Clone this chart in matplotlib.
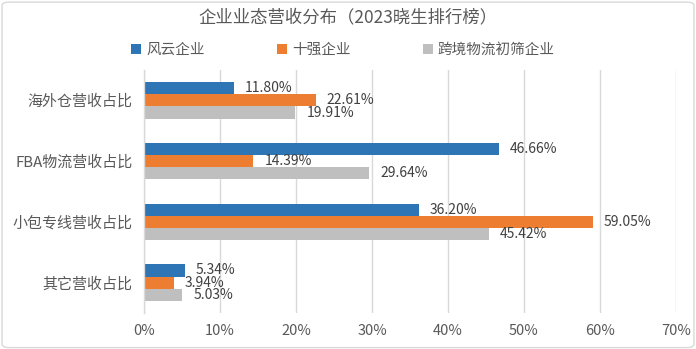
import matplotlib
matplotlib.use("Agg")
import matplotlib.pyplot as plt
import numpy as np
from matplotlib.patches import FancyBboxPatch
from matplotlib.ticker import FuncFormatter

plt.rcParams['font.family'] = ['Noto Sans CJK SC', 'DejaVu Sans']

categories = ["海外仓营收占比", "FBA物流营收占比", "小包专线营收占比", "其它营收占比"]
series_names = ["风云企业", "十强企业", "跨境物流初筛企业"]
fengyun = [11.80, 46.66, 36.20, 5.34]
shiqiang = [22.61, 14.39, 59.05, 3.94]
chushai = [19.91, 29.64, 45.42, 5.03]
xticks = [0, 10, 20, 30, 40, 50, 60, 70]
title = "企业业态营收分布（2023晓生排行榜）"

colors = ["#2E75B6", "#ED7D31", "#BFBFBF"]
text_color = "#595959"

fig = plt.figure(figsize=(6.96, 3.49), dpi=100)
ax = fig.add_axes([144/696, 1 - 313/349, (676 - 144)/696, (313 - 70)/349])

y = np.arange(len(categories))
h = 0.2
data = [fengyun, shiqiang, chushai]
for i, (vals, c, name) in enumerate(zip(data, colors, series_names)):
    pos = y + (i - 1) * h
    ax.barh(pos, vals, height=h, color=c, label=name, zorder=3)
    for p, v in zip(pos, vals):
        ax.annotate(f"{v:.2f}%", xy=(v, p), xytext=(11, 0), textcoords="offset pixels",
                    va="center", ha="left", fontsize=10, color="#404040", zorder=4)

ax.set_ylim(len(categories) - 0.5, -0.5)
ax.set_xlim(0, 70)
ax.set_xticks(xticks)
ax.xaxis.set_major_formatter(FuncFormatter(lambda v, p: f"{v:.0f}%"))
ax.set_yticks(y)
ax.set_yticklabels(categories)
ax.tick_params(axis="both", length=0, colors=text_color)
ax.tick_params(axis="x", pad=8, labelsize=10.5)
ax.tick_params(axis="y", pad=8, labelsize=10.8)
ax.grid(axis="x", color="#D9D9D9", linewidth=1, zorder=0)
for s in ["top", "right", "bottom"]:
    ax.spines[s].set_visible(False)
ax.spines["left"].set_color("#D9D9D9")
ax.spines["left"].set_linewidth(1)
ax.spines["left"].set_zorder(5)

fig.text(0.5, 1 - 17/349, title, ha="center", va="center", fontsize=12.5, color=text_color)

leg = fig.legend(loc="center", bbox_to_anchor=(0.493, 1 - 50/349), ncol=3, frameon=False,
                 fontsize=10.5, handlelength=0.65, handleheight=0.65, columnspacing=5.0,
                 handletextpad=0.35, labelcolor=text_color)

border = FancyBboxPatch((0.003, 0.004), 0.994, 0.99, boxstyle="round,pad=0,rounding_size=0.01",
                        transform=fig.transFigure, facecolor="none", edgecolor="#D9D9D9", linewidth=1)
fig.patches.append(border)

fig.savefig("out.png", dpi=100, facecolor="white")
